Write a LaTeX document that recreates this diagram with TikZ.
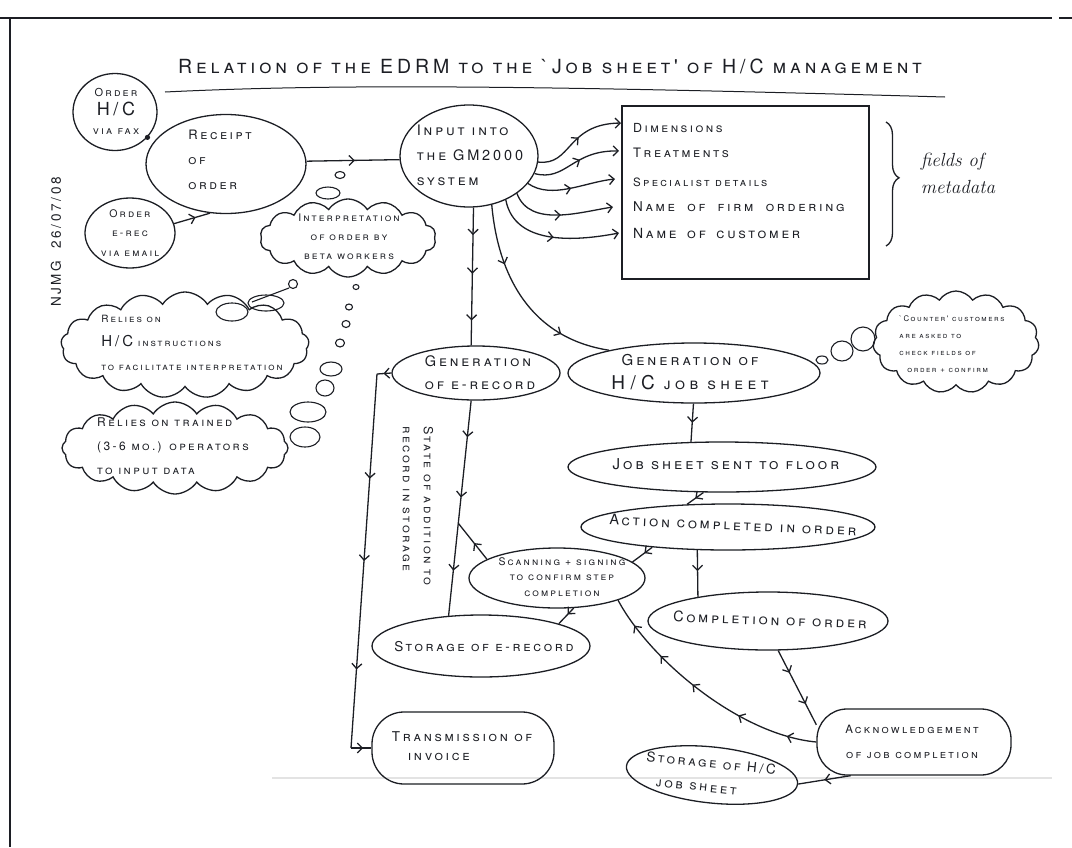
\documentclass[tikz,border=0pt]{standalone}
\usepackage{fontspec}
\newfontfamily\hand{TeX Gyre Heros}[LetterSpace=20]
\usetikzlibrary{shapes.geometric,shapes.symbols,decorations.markings,decorations.pathreplacing,arrows.meta}
\definecolor{ink}{RGB}{28,30,36}
\begin{document}
\begin{tikzpicture}[x=1pt,y=-1pt,
  >={Straight Barb[length=5pt,width=10pt]},
  pen/.style={draw=ink,line width=1.3pt},
  oval/.style={pen,ellipse,inner sep=0pt},
  roundbox/.style={pen,rectangle,rounded corners=#1,inner sep=0pt},
  puff/.style={pen,cloud,cloud puffs=#1,cloud puff arc=115,cloud ignores aspect,inner sep=0pt},
  bubble/.style={draw=ink,line width=1.1pt},
  hw/.style 2 args={font=\hand\fontsize{#1}{#2}\selectfont\scshape,inner sep=0pt,text=ink,align=center},
  mk/.style={postaction={decorate,decoration={markings,mark=at position #1 with {\arrow{>}}}}},
]
\useasboundingbox (0,0) rectangle (1072,847);

% sheet frame
\draw[ink,line width=2pt] (0,18) -- (1052,18);
\draw[ink,line width=2pt] (1059,18) -- (1072,18);
\draw[ink,line width=2pt] (10,18) -- (10,847);
\draw[gray!22,line width=1.6pt] (272,778) -- (1052,778);

% heading
\node[hw={19.5}{22}] (title) at (550,66) {Relation of the EDRM to the `Job sheet' of H/C management};
\coordinate (ul1) at (165,92);
\coordinate (ul2) at (945,97);
\draw[pen,line width=1pt] (ul1) .. controls (330,84) and (520,85) .. (ul2);

% date, written up the margin
\node[hw={13.5}{16},rotate=90] (date) at (56,242) {NJMG\hspace{12pt}26/07/08};

% ways an order arrives
\node[oval,minimum width=84pt,minimum height=77pt] (fax) at (115,112) {};
\node[hw={11}{19}] (fax-t) at (116,111) {Order\\{\fontsize{18}{18}\selectfont H/C}\\via fax};
\node[oval,minimum width=160pt,minimum height=99pt] (receipt) at (226,164) {};
\node[hw={13}{25},align=left] (receipt-t) at (220,160) {Receipt\\of\\order};
\node[oval,minimum width=90pt,minimum height=70pt] (email) at (130,233) {};
\node[hw={10.5}{19.5}] (email-t) at (130,233) {Order\\e-rec\\via email};
\fill[ink] (fax.-38) circle (2.6pt);
\draw[pen,mk=0.6] (email.12) -- (receipt.-108);

% input into the system
\node[oval,minimum width=138pt,minimum height=102pt] (input) at (469,156) {};
\node[hw={14.5}{25},align=left] (input-t) at (470,155) {Input into\\the GM2000\\system};
\draw[pen,mk=0.52] (receipt.2) -- (input.183);

% metadata fields
\node[pen,rectangle,minimum width=247pt,minimum height=173pt,inner sep=0pt] (meta) at (745.5,192.5) {};
\node[hw={12.5}{12},anchor=west] (dim) at (633,128) {Dimensions};
\node[hw={13}{12},anchor=west] (treat) at (633,153) {Treatments};
\node[hw={11.5}{12},anchor=west] (spec) at (633,182) {Specialist details};
\node[hw={13.5}{12},anchor=west] (firm) at (633,207) {Name\hspace{6pt} of\hspace{6pt} firm\hspace{6pt} ordering};
\node[hw={14}{12},anchor=west] (cust) at (633,233) {Name\hspace{4pt} of\hspace{4pt} customer};
\coordinate (e1) at ([xshift=-12pt,yshift=5pt]dim.west);
\coordinate (e2) at ([xshift=-14pt,yshift=2pt]treat.west);
\coordinate (e3) at ([xshift=-18pt,yshift=3pt]spec.west);
\coordinate (e4) at ([xshift=-20pt]firm.west);
\coordinate (e5) at ([xshift=-14pt]cust.west);
\draw[pen,->,mk=0.52] (input.-5) .. controls (572,166) and (566,124) .. (e1);
\draw[pen,->,mk=0.55] (input.-15) .. controls (566,182) and (572,150) .. (e2);
\draw[pen,->,mk=0.5] (input.-25) .. controls (552,200) and (585,182) .. (e3);
\draw[pen,->,mk=0.5] (input.-38) .. controls (530,228) and (580,212) .. (e4);
\draw[pen,->,mk=0.5] (input.-50) .. controls (515,248) and (582,240) .. (e5);

\coordinate (br1) at (886,122);
\coordinate (br2) at (886,246);
\draw[pen,decorate,decoration={brace,amplitude=13pt,aspect=0.45}] (br1) -- (br2);
\node[font=\itshape\fontsize{19}{27}\selectfont,text=ink,align=left,inner sep=0pt] (fields) at (958,173) {fields of\\metadata};

% interpretation by staff
\node[puff=14,minimum width=176pt,minimum height=78pt] (interp) at (348,238) {};
\node[hw={10.5}{19}] (interp-t) at (349,237) {Interpretation\\of order by\\beta workers};
\draw[bubble] (340,175) ellipse [x radius=5pt,y radius=3.5pt];
\draw[bubble] (328,193) ellipse [x radius=12pt,y radius=6pt];

\node[puff=17,minimum width=248pt,minimum height=106pt] (relyhc) at (185,345) {};
\node[hw={10}{24},align=left] (relyhc-t) at (192,343) {Relies on\\{\fontsize{15}{15}\selectfont H/C} instructions\\to facilitate interpretation};
\node[puff=16,minimum width=226pt,minimum height=92pt] (relytr) at (175,448) {};
\node[hw={12}{24},align=left] (relytr-t) at (173,446) {Relies on trained\\(3-6 mo.) operators\\to input data};

% thought bubbles
\draw[bubble] (293,284) circle (4.5pt);
\draw[bubble] (289,288) -- (252,302);
\draw[bubble] (266,303) ellipse [x radius=18pt,y radius=8pt];
\draw[bubble] (232,312) ellipse [x radius=16pt,y radius=9pt];
\draw[bubble] (356,287) ellipse [x radius=3pt,y radius=2.5pt];
\draw[bubble] (349,307) ellipse [x radius=3.5pt,y radius=3pt];
\draw[bubble] (346,324) ellipse [x radius=4pt,y radius=3.5pt];
\draw[bubble] (340,343) ellipse [x radius=4.5pt,y radius=4pt];
\draw[bubble] (331,369) ellipse [x radius=11pt,y radius=7pt];
\draw[bubble] (325,388) ellipse [x radius=9pt,y radius=8pt];
\draw[bubble] (308,412) ellipse [x radius=18pt,y radius=10pt];
\draw[bubble] (305,437) ellipse [x radius=15pt,y radius=10pt];

% records
\node[oval,minimum width=168pt,minimum height=54pt] (gener) at (476,373) {};
\node[hw={14.5}{23},align=left] (gener-t) at (480,373) {Generation\\of e-record};
\node[oval,minimum width=252pt,minimum height=60pt] (genhc) at (694,373) {};
\node[hw={15}{24}] (genhc-t) at (690,372) {Generation of\\{\fontsize{16}{16}\selectfont\addfontfeature{LetterSpace=28}{\fontsize{19}{19}\selectfont H/C} job sheet}};
\draw[pen,mk=0.2,mk=0.48,mk=0.82] (input.-85) -- (gener.100);
\draw[pen,mk=0.3,mk=0.75] (input.-65) .. controls (498,275) and (530,338) .. (genhc.165);

% counter customers
\node[puff=15,minimum width=166pt,minimum height=102pt] (counter) at (956,342) {};
\node[hw={7.8}{17},align=left] (counter-t) at (952,344) {`Counter' customers\\are asked to\\check fields of\\\hspace{8pt}order + confirm};
\draw[bubble] (822,360) ellipse [x radius=6pt,y radius=4pt];
\draw[bubble] (842,351) ellipse [x radius=11pt,y radius=10pt];
\draw[bubble] (863,339) ellipse [x radius=12pt,y radius=12pt];

% job sheet on the floor
\node[oval,minimum width=308pt,minimum height=50pt] (sent) at (722,467) {};
\node[hw={15}{15}] (sent-t) at (726,464) {Job sheet sent to floor};
\node[oval,minimum width=294pt,minimum height=46pt] (action) at (728,527) {};
\node[hw={14.5}{16},rotate=-2.5] (action-t) at (733,525) {Action completed in order};
\draw[pen,mk=0.5] (genhc.-91) -- (sent.141);
\draw[pen,mk=0.5] (sent.-126) -- (action.151);

\node[oval,minimum width=176pt,minimum height=60pt] (scan) at (557,578) {};
\node[hw={10.5}{15.5}] (scan-t) at (562,577) {Scanning + signing\\to confirm step\\completion};
\draw[pen,mk=0.4] (action.-165) -- (scan.12);

\node[oval,minimum width=240pt,minimum height=58pt] (complete) at (768,621) {};
\node[hw={14.5}{14},rotate=-2] (complete-t) at (770,620) {Completion of order};
\draw[pen,mk=0.45] (action.-143) -- (complete.161);

% e-record branch
\node[oval,minimum width=218pt,minimum height=62pt] (storer) at (481,646) {};
\node[hw={13.5}{15}] (storer-t) at (484,647) {Storage of e-record};
\path (gener.-100) -- (storer.137) coordinate[pos=0.57] (junc);
\draw[pen,mk=0.17,mk=0.45,mk=0.79] (gener.-100) -- (storer.137);
\node[hw={12.5}{21},rotate=-90,align=left] (state) at (418,506) {State of addition to\\record in storage};
\draw[pen,mk=0.45] (scan.165) -- (junc);
\draw[pen,mk=0.4] (scan.-61) -- (storer.16);

\node[roundbox=32pt,minimum width=182pt,minimum height=72pt] (trans) at (463,748) {};
\node[hw={13.5}{19},align=left] (trans-t) at (462,746) {Transmission of\\\hspace{16pt}invoice};
\coordinate (ga) at (377,374);
\coordinate (gb) at (351,748);
\draw[pen,mk=0.55] (gener.west) -- (ga);
\draw[pen,mk=0.28,mk=0.5,mk=0.79] (ga) -- (gb);
\draw[pen,mk=0.6] (gb) -- (trans.west);

% acknowledgement and job sheet storage
\node[roundbox=30pt,minimum width=194pt,minimum height=66pt] (ack) at (914,742) {};
\node[hw={11.5}{25}] (ack-t) at (912,742) {Acknowledgement\\of job completion};
\node[oval,minimum width=172pt,minimum height=56pt,rotate=-6] (storhc) at (712,775) {};
\node[hw={13.5}{24},align=left,rotate=-6] (storhc-t) at (710,775) {Storage of H/C\\\hspace{12pt}job sheet};
\draw[pen,mk=0.3,mk=0.72] (complete.-71) -- (ack.170);
\draw[pen,mk=0.12,mk=0.33,mk=0.55,mk=0.72,mk=0.88] (ack.west) .. controls (740,735) and (650,660) .. (scan.-20);
\draw[pen,mk=0.5] (ack.-152) -- (storhc.east);
\end{tikzpicture}
\end{document}
